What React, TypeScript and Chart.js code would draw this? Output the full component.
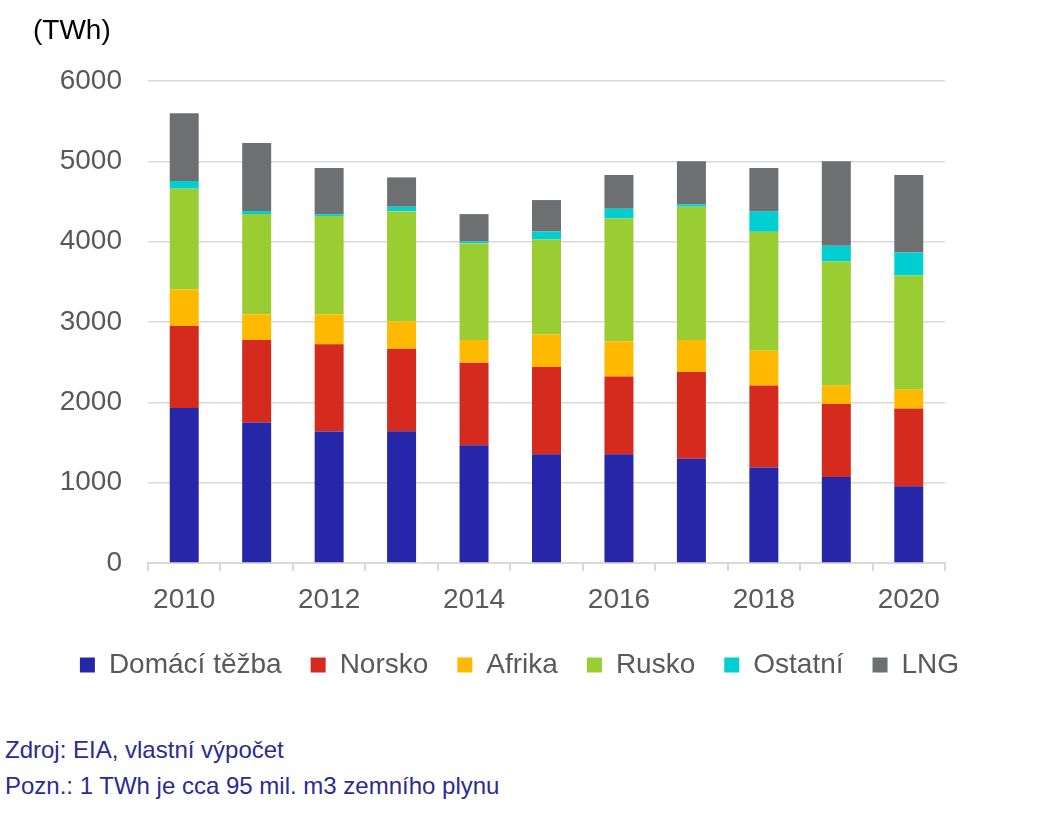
import React, { useEffect, useRef } from "react";
import { Chart, registerables } from "chart.js";

Chart.register(...registerables);

const years = ["2010", "2011", "2012", "2013", "2014", "2015", "2016", "2017", "2018", "2019", "2020"];
const domaci = [1930, 1750, 1638, 1640, 1467, 1355, 1355, 1297, 1189, 1072, 956];
const norsko = [1020, 1026, 1084, 1028, 1027, 1085, 968, 1080, 1022, 906, 968];
const afrika = [455, 320, 374, 341, 282, 403, 437, 399, 432, 233, 233];
const rusko = [1255, 1247, 1222, 1368, 1202, 1184, 1529, 1659, 1480, 1542, 1422];
const ostatni = [95, 38, 25, 58, 24, 100, 121, 29, 254, 195, 286];
const lng = [845, 848, 574, 365, 341, 391, 420, 536, 540, 1052, 965];
const yTicks = [0, 1000, 2000, 3000, 4000, 5000, 6000];

const FONT = "'Liberation Sans', Arial, sans-serif";

export default function App() {
  const ref = useRef<HTMLCanvasElement>(null);
  useEffect(() => {
    document.body.style.margin = "0";
    const ctx = ref.current!;
    const chart = new Chart(ctx, {
      type: "bar",
      data: {
        labels: years,
        datasets: [
          { label: "Domácí těžba", data: domaci, backgroundColor: "#2626A8" },
          { label: "Norsko", data: norsko, backgroundColor: "#D42B1E" },
          { label: "Afrika", data: afrika, backgroundColor: "#FFB900" },
          { label: "Rusko", data: rusko, backgroundColor: "#9ACD32" },
          { label: "Ostatní", data: ostatni, backgroundColor: "#00CED1" },
          { label: "LNG", data: lng, backgroundColor: "#6D6F70" },
        ],
      },
      options: {
        animation: false,
        responsive: false,
        maintainAspectRatio: false,
        layout: { padding: { top: 81, right: 8, left: 0, bottom: 10 } },
        datasets: { bar: { barPercentage: 0.4, categoryPercentage: 1 } },
        plugins: {
          tooltip: { enabled: false },
          legend: {
            position: "bottom",
            labels: {
              boxWidth: 15,
              boxHeight: 15,
              padding: 29,
              color: "#595959",
              font: { family: FONT, size: 28 },
            },
          },
        },
        scales: {
          x: {
            stacked: true,
            grid: {
              offset: true,
              drawOnChartArea: false,
              drawTicks: true,
              tickLength: 8,
              color: "#D9D9D9",
              lineWidth: 2,
            },
            border: { display: true, color: "#D9D9D9", width: 2 },
            ticks: {
              autoSkip: false,
              maxRotation: 0,
              padding: 12,
              color: "#595959",
              font: { family: FONT, size: 28 },
              callback: (_v: any, i: number) => (i % 2 === 0 ? years[i] : ""),
            },
            afterFit: (s: any) => {
              s.height = 59;
            },
          },
          y: {
            stacked: true,
            min: 0,
            max: 6000,
            afterBuildTicks: (s: any) => {
              s.ticks = yTicks.map((v) => ({ value: v }));
            },
            grid: { color: "#D9D9D9", lineWidth: 1.5, drawTicks: false },
            border: { display: false },
            ticks: {
              padding: 26,
              color: "#595959",
              font: { family: FONT, size: 28 },
              callback: (v: any) => String(v),
            },
            afterFit: (s: any) => {
              s.width = 148;
            },
          },
          spacer: {
            type: "linear",
            position: "right",
            display: true,
            grid: { display: false, drawOnChartArea: false },
            border: { display: false },
            ticks: { display: false },
            afterFit: (s: any) => {
              s.width = 94;
            },
          },
        },
      },
    });
    return () => chart.destroy();
  }, []);

  return (
    <div style={{ position: "relative", width: 1047, height: 815, background: "#fff", fontFamily: FONT }}>
      <canvas ref={ref} width={1047} height={699} style={{ position: "absolute", left: 0, top: 0, width: 1047, height: 699 }} />
      <div style={{ position: "absolute", left: 33, top: 13, fontSize: 28, lineHeight: "34px", color: "#000" }}>(TWh)</div>
      <div style={{ position: "absolute", left: 5, top: 735, fontSize: 24, lineHeight: "30px", color: "#2B2B93" }}>Zdroj: EIA, vlastní výpočet</div>
      <div style={{ position: "absolute", left: 5, top: 771, fontSize: 24, lineHeight: "30px", color: "#2B2B93" }}>Pozn.: 1 TWh je cca 95 mil. m3 zemního plynu</div>
    </div>
  );
}
